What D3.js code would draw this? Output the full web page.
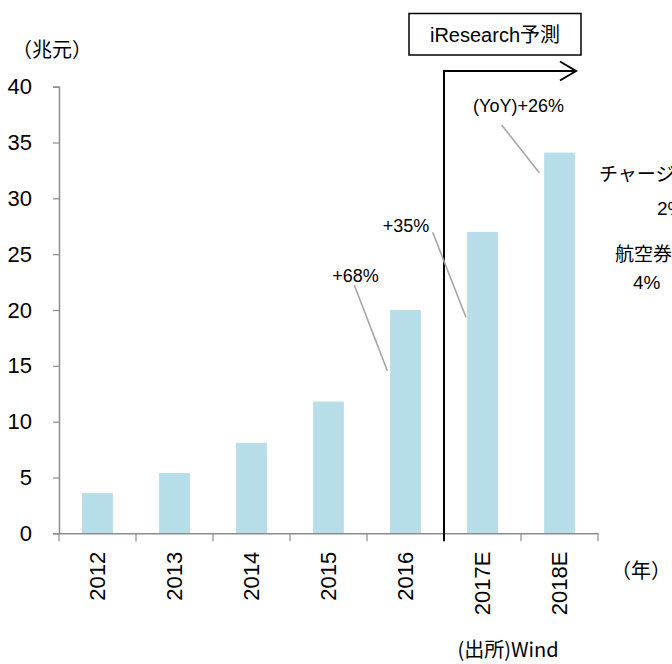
<!DOCTYPE html>
<html>
<head>
<meta charset="utf-8">
<script src="https://cdn.jsdelivr.net/npm/d3@7"></script>
<style>
  html, body { margin: 0; padding: 0; background: #fff; }
  svg { display: block; }
  text { font-family: "Liberation Sans", Arial, "Noto Sans CJK JP", sans-serif; fill: #000; }
  .jp { font-family: "Noto Sans CJK JP", "Liberation Sans", sans-serif; }
</style>
</head>
<body>
<svg id="chart" width="672" height="664"></svg>
<script>
// Market size (trillion yuan), actual 2012-2016 and forecast 2017E-2018E
const years = ["2012", "2013", "2014", "2015", "2016", "2017E", "2018E"];
const values = [3.6, 5.4, 8.1, 11.8, 20.0, 27.0, 34.1];
const yTicks = [0, 5, 10, 15, 20, 25, 30, 35, 40];

// Year-on-year growth callouts
const growthYears = ["2016", "2017E", "2018E"];
const growthLabels = ["+68%", "+35%", "(YoY)+26%"];

// Partial breakdown labels at the right edge
const shareNames = ["チャージ", "航空券"];
const shareValues = ["2%", "4%"];

const svg = d3.select("#chart");
const plotLeft = 59, plotRight = 598, plotTop = 86.7, plotBottom = 533.3;

const x = d3.scaleBand().domain(years).range([plotLeft, plotRight])
  .paddingInner(0.6).paddingOuter(0.3);
const y = d3.scaleLinear().domain([0, 40]).range([plotBottom, plotTop]);
const step = x.step();
const boundary = i => plotLeft + i * step;

// Bars
svg.append("g").selectAll("rect").data(years).join("rect")
  .attr("x", d => x(d))
  .attr("width", x.bandwidth())
  .attr("y", (d, i) => y(values[i]))
  .attr("height", (d, i) => y(0) - y(values[i]))
  .attr("fill", "#B7DDE8");

// Y axis
const yAxis = svg.append("g")
  .attr("transform", `translate(${plotLeft},0)`)
  .call(d3.axisLeft(y).tickValues(yTicks).tickSize(6).tickSizeOuter(6).tickPadding(21));
yAxis.select(".domain").attr("stroke", "#8c8c8c").attr("stroke-width", 1.5);
yAxis.selectAll(".tick line").attr("stroke", "#8c8c8c").attr("stroke-width", 1.2);
yAxis.selectAll(".tick text").attr("font-size", 22).attr("fill", "#000")
  .style("font-family", "'Liberation Sans', Arial, sans-serif");

// X axis: baseline, boundary ticks and rotated labels
const xAxis = svg.append("g").attr("transform", `translate(0,${plotBottom})`)
  .call(d3.axisBottom(x).tickSize(0).tickSizeOuter(0).tickPadding(0));
xAxis.select(".domain").attr("stroke", "#8c8c8c").attr("stroke-width", 1.5);
xAxis.selectAll(".tick text")
  .attr("font-size", 22)
  .attr("fill", "#000")
  .attr("text-anchor", "end")
  .attr("transform", "rotate(-90)")
  .attr("x", -18.4)
  .attr("y", 0)
  .attr("dy", "0.35em")
  .style("font-family", "'Liberation Sans', Arial, sans-serif");
svg.append("g").selectAll("line").data(d3.range(years.length + 1)).join("line")
  .attr("x1", i => boundary(i)).attr("x2", i => boundary(i))
  .attr("y1", plotBottom).attr("y2", plotBottom + 8)
  .attr("stroke", "#8c8c8c").attr("stroke-width", 1.2);

// Unit labels
svg.append("text").attr("class", "jp").attr("x", 12).attr("y", 50)
  .attr("dy", "0.35em").attr("font-size", 20).text("（兆元）");
svg.append("text").attr("class", "jp").attr("x", 611).attr("y", 571)
  .attr("dy", "0.35em").attr("font-size", 20).text("（年）");
svg.append("text").attr("class", "jp").attr("x", 508).attr("y", 650)
  .attr("dy", "0.35em").attr("text-anchor", "middle").attr("font-size", 20)
  .text("(出所)Wind");

// Forecast divider with arrow
const divX = boundary(5);
const arrowY = 71;
const arrowTip = 576;
svg.append("path")
  .attr("d", `M${divX},${plotBottom + 8}V${arrowY}H${arrowTip}`)
  .attr("fill", "none").attr("stroke", "#000").attr("stroke-width", 2);
svg.append("path")
  .attr("d", `M${arrowTip - 16},${arrowY - 9.5}L${arrowTip},${arrowY}L${arrowTip - 16},${arrowY + 9.5}`)
  .attr("fill", "none").attr("stroke", "#000").attr("stroke-width", 2);

// Forecast box
svg.append("rect").attr("x", 409).attr("y", 13.5).attr("width", 172).attr("height", 41.5)
  .attr("fill", "#fff").attr("stroke", "#000").attr("stroke-width", 1.5);
svg.append("text").attr("x", 495).attr("y", 34.5).attr("dy", "0.35em")
  .attr("text-anchor", "middle").attr("font-size", 20).text("iResearch予測");

// Growth callouts with leader lines
const callouts = [
  { tx: 355.5, ty: 275.5, x1: 354.3, y1: 285, x2: 387.3, y2: 370.7 },
  { tx: 406, ty: 226, x1: 432.7, y1: 232.3, x2: 466, y2: 317.3 },
  { tx: 518.5, ty: 105.5, x1: 501.7, y1: 125, x2: 539.3, y2: 172.7 }
];
growthLabels.forEach((lab, i) => {
  const c = callouts[i];
  svg.append("line").attr("x1", c.x1).attr("y1", c.y1).attr("x2", c.x2).attr("y2", c.y2)
    .attr("stroke", "#a6a6a6").attr("stroke-width", 1.6);
  svg.append("text").attr("x", c.tx).attr("y", c.ty).attr("dy", "0.35em")
    .attr("text-anchor", "middle").attr("font-size", 18)
    .attr("data-year", growthYears[i]).text(lab);
});

// Breakdown labels running off the right edge
const shareLayout = [
  { nx: 599, ny: 174, vx: 657, vy: 208 },
  { nx: 615, ny: 254, vx: 633, vy: 282 }
];
shareNames.forEach((n, i) => {
  const s = shareLayout[i];
  svg.append("text").attr("class", "jp").attr("x", s.nx).attr("y", s.ny)
    .attr("dy", "0.35em").attr("font-size", 19).text(n);
  svg.append("text").attr("x", s.vx).attr("y", s.vy)
    .attr("dy", "0.35em").attr("font-size", 19).text(shareValues[i]);
});
</script>
</body>
</html>
